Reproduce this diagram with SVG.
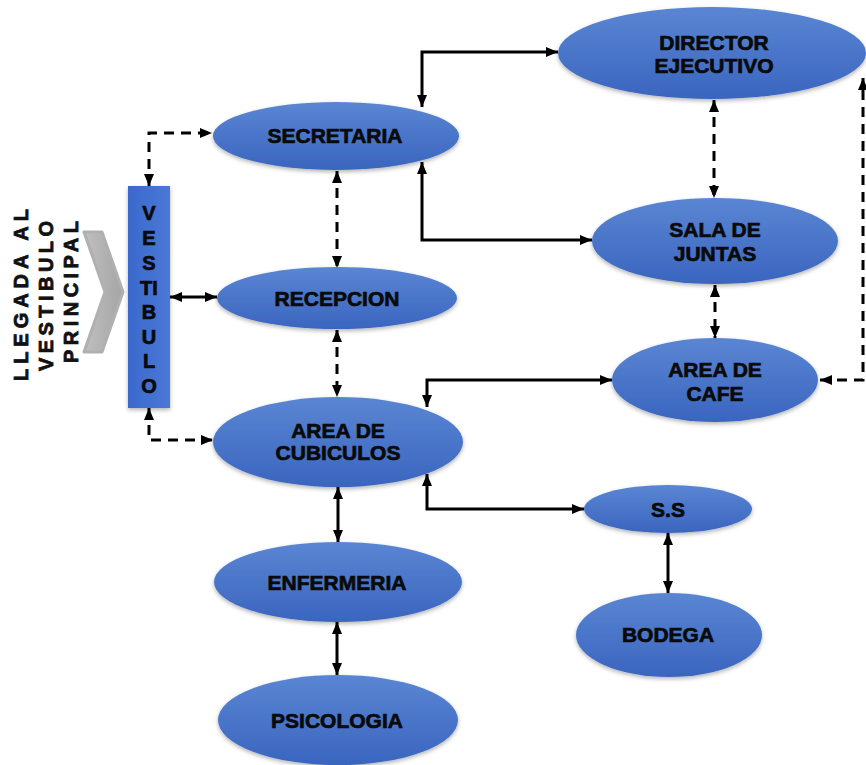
<svg xmlns="http://www.w3.org/2000/svg" width="866" height="765" viewBox="0 0 866 765">
<style>
.node{fill:url(#blue);filter:url(#sh);}
.lbl{font-family:"Liberation Sans",Arial,sans-serif;font-weight:bold;font-size:21px;fill:#0a0a0a;stroke:#0a0a0a;stroke-width:0.7;text-anchor:middle;}
.vl{font-family:"Liberation Sans",Arial,sans-serif;font-weight:bold;font-size:20px;fill:#0a0a0a;stroke:#0a0a0a;stroke-width:0.7;text-anchor:middle;}
.side{font-family:"Liberation Sans",Arial,sans-serif;font-weight:bold;font-size:20px;fill:#111;stroke:#111;stroke-width:0.8;text-anchor:middle;}
.c{fill:none;stroke:#000;stroke-width:3;marker-start:url(#ah);marker-end:url(#ah);}
.d{stroke-dasharray:10 7;}
</style>
<defs>
<linearGradient id="blue" x1="0" y1="0" x2="0" y2="1">
<stop offset="0" stop-color="#5a86d3"/>
<stop offset="1" stop-color="#3a65bf"/>
</linearGradient>
<linearGradient id="rectg" x1="0" y1="0" x2="1" y2="0">
<stop offset="0" stop-color="#3b69cc"/>
<stop offset="1" stop-color="#4a78d6"/>
</linearGradient>
<linearGradient id="grey" x1="0" y1="0" x2="1" y2="0">
<stop offset="0" stop-color="#c0c0c0"/>
<stop offset="1" stop-color="#a4a4a4"/>
</linearGradient>
<filter id="sh" x="-10%" y="-10%" width="120%" height="130%">
<feDropShadow dx="0" dy="2" stdDeviation="2" flood-color="#000" flood-opacity="0.3"/>
</filter>
<marker id="ah" viewBox="0 0 12 10" refX="12" refY="5" markerWidth="12" markerHeight="10" markerUnits="userSpaceOnUse" orient="auto-start-reverse">
<path d="M0,0 L12,5 L0,10 z" fill="#000"/>
</marker>
</defs>
<rect width="866" height="765" fill="#fff"/>

<g id="llegada">
<polygon points="84,232 102,232 123,292 102,352 84,352 105,292" fill="url(#grey)" stroke="#b0b0b0" stroke-width="3" stroke-linejoin="round"/>
<text class="side" transform="translate(28,295) rotate(-90)" x="0" y="0" textLength="172" lengthAdjust="spacing">LLEGADA AL</text>
<text class="side" transform="translate(53,296) rotate(-90)" x="0" y="0" textLength="150" lengthAdjust="spacing">VESTIBULO</text>
<text class="side" transform="translate(78,292) rotate(-90)" x="0" y="0" textLength="142" lengthAdjust="spacing">PRINCIPAL</text>
</g>

<g id="vestibulo">
<rect x="128" y="186" width="42" height="222" fill="url(#rectg)" filter="url(#sh)"/>
<text class="vl" x="149" y="220">V</text>
<text class="vl" x="149" y="245">E</text>
<text class="vl" x="149" y="270">S</text>
<text class="vl" x="149" y="295">TI</text>
<text class="vl" x="149" y="319">B</text>
<text class="vl" x="149" y="344">U</text>
<text class="vl" x="149" y="368">L</text>
<text class="vl" x="149" y="393">O</text>
</g>

<g id="connectors">
<path class="c d" d="M149,186 V133 H212"/>
<path class="c" d="M170,297 H217"/>
<path class="c d" d="M149,408 V440 H213"/>
<path class="c d" d="M337,171 V268"/>
<path class="c d" d="M337,330 V397"/>
<path class="c" d="M422,107 V52 H558"/>
<path class="c" d="M422,162 V240 H592"/>
<path class="c d" d="M714,100 V198"/>
<path class="c d" d="M715,285 V338"/>
<path class="c d" d="M820,380 H863 V78"/>
<path class="c" d="M427,407 V380 H612"/>
<path class="c" d="M427,474 V509 H584"/>
<path class="c" d="M338,487 V542"/>
<path class="c" d="M337,622 V675"/>
<path class="c" d="M668,533 V593"/>
</g>

<g id="director"><ellipse class="node" cx="712" cy="53" rx="154" ry="46"/>
<text class="lbl" x="714" y="50">DIRECTOR</text><text class="lbl" x="714" y="73">EJECUTIVO</text></g>
<g id="secretaria"><ellipse class="node" cx="336" cy="136" rx="123" ry="34"/>
<text class="lbl" x="335" y="143">SECRETARIA</text></g>
<g id="sala"><ellipse class="node" cx="715" cy="241" rx="123" ry="43"/>
<text class="lbl" x="715" y="237">SALA DE</text><text class="lbl" x="715" y="261">JUNTAS</text></g>
<g id="recepcion"><ellipse class="node" cx="337" cy="298" rx="120" ry="31"/>
<text class="lbl" x="337" y="306">RECEPCION</text></g>
<g id="cafe"><ellipse class="node" cx="715" cy="380" rx="103" ry="42"/>
<text class="lbl" x="715" y="377">AREA DE</text><text class="lbl" x="715" y="401">CAFE</text></g>
<g id="cubiculos"><ellipse class="node" cx="338" cy="442" rx="125" ry="45"/>
<text class="lbl" x="338" y="438">AREA DE</text><text class="lbl" x="338" y="460">CUBICULOS</text></g>
<g id="ss"><ellipse class="node" cx="668" cy="509" rx="84" ry="24"/>
<text class="lbl" x="668" y="517">S.S</text></g>
<g id="bodega"><ellipse class="node" cx="669" cy="635" rx="93" ry="42"/>
<text class="lbl" x="668" y="642">BODEGA</text></g>
<g id="enfermeria"><ellipse class="node" cx="338" cy="582" rx="124" ry="40"/>
<text class="lbl" x="337" y="590">ENFERMERIA</text></g>
<g id="psicologia"><ellipse class="node" cx="338" cy="720" rx="120" ry="45"/>
<text class="lbl" x="337" y="728">PSICOLOGIA</text></g>
</svg>
